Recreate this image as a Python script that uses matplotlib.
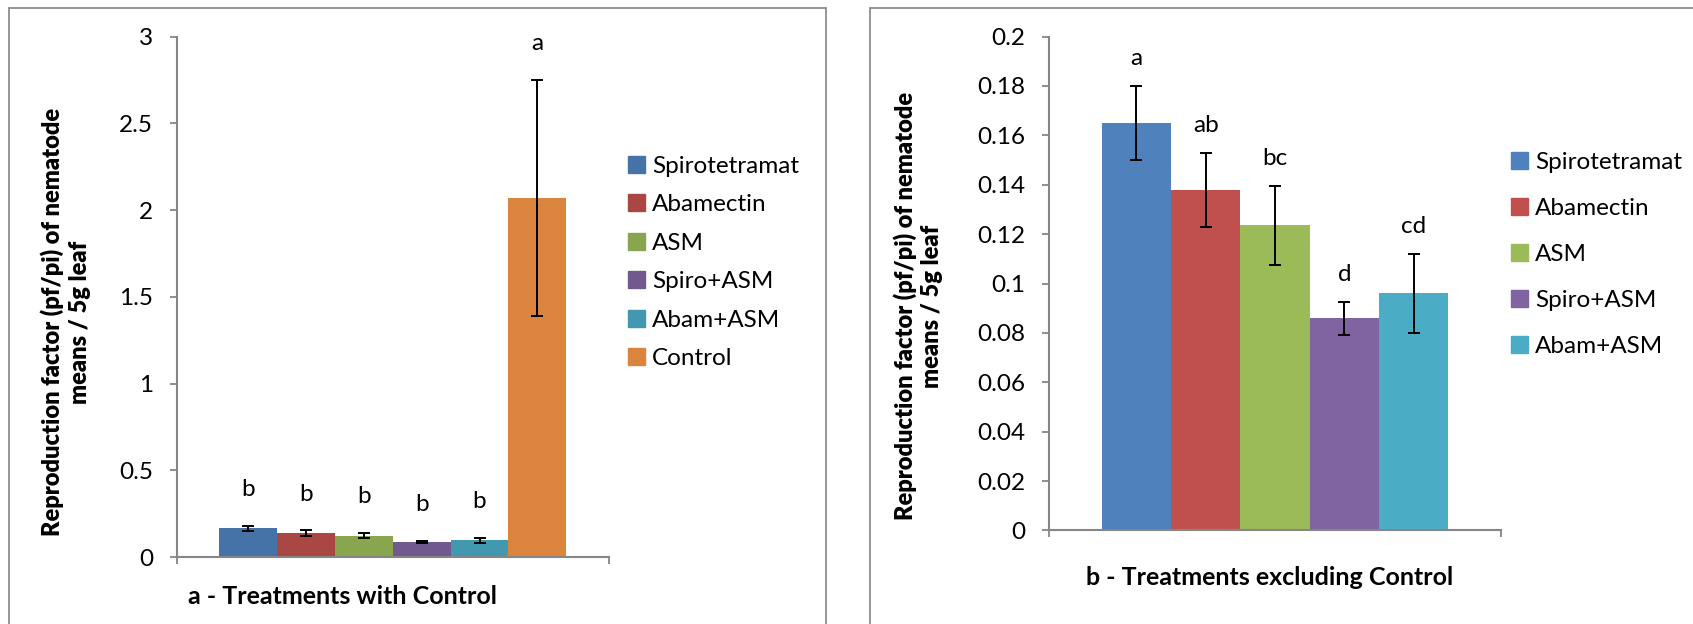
import numpy as np
import matplotlib.pyplot as plt
from matplotlib.patches import Rectangle, Patch

plt.rcParams['font.family'] = ['Lato', 'DejaVu Sans']

# data
treatments = ['Spirotetramat', 'Abamectin', 'ASM', 'Spiro+ASM', 'Abam+ASM', 'Control']
means = [0.165, 0.138, 0.1235, 0.086, 0.096, 2.07]
errs = [0.015, 0.015, 0.016, 0.0067, 0.016, 0.68]
letters_all = ['b', 'b', 'b', 'b', 'b', 'a']
letters_sub = ['a', 'ab', 'bc', 'd', 'cd']

# colours (left panel uses the older Excel palette, right the Office one)
cols_a = ['#4572A7', '#AA4643', '#89A54E', '#71588F', '#4198AF', '#DB843D']
cols_b = ['#4F81BD', '#C0504D', '#9BBB59', '#8064A2', '#4BACC6']

W, H = 1693, 624
fig = plt.figure(figsize=(W / 100, H / 100), dpi=100)

def px(x0, y0, x1, y1):
    # pixel box (top-left origin) -> figure fraction rect
    return [x0 / W, 1 - y1 / H, (x1 - x0) / W, (y1 - y0) / H]

axis_grey = '#868686'
fs = 17.5


def panel(ax, names, vals, err, lets, cols, group_w, ymax, ystep, fmt, lab_off):
    n = len(vals)
    w = group_w / n
    xs = -group_w / 2 + w / 2 + w * np.arange(n)
    ax.bar(xs, vals, width=w, color=cols, label=names, zorder=2)
    ax.errorbar(xs, vals, yerr=err, fmt='none', ecolor='black',
                elinewidth=1.4, capsize=4.5, capthick=1.4, zorder=3)
    for x, v, e, l in zip(xs, vals, err, lets):
        ax.annotate(l, (x, v + e), xytext=(0, lab_off), textcoords='offset pixels',
                    ha='center', va='center', fontsize=fs)
    ax.set_xlim(-0.5, 0.5)
    ax.set_ylim(0, ymax)
    ticks = np.arange(0, ymax + ystep / 2, ystep)
    ax.set_yticks(ticks)
    ax.set_yticklabels([fmt(t) for t in ticks], fontsize=fs)
    ax.set_xticks([-0.5, 0.5])
    ax.set_xticklabels(['', ''])
    ax.tick_params(axis='both', direction='out', length=5, width=1.3, color=axis_grey)
    ax.tick_params(axis='y', pad=12)
    for s in ['top', 'right']:
        ax.spines[s].set_visible(False)
    for s in ['left', 'bottom']:
        ax.spines[s].set_color(axis_grey)
        ax.spines[s].set_linewidth(1.5)
    ax.spines['bottom'].set_zorder(4)


def fmt_a(t):
    return '0' if t == 0 else ('%g' % t)


ax1 = fig.add_axes(px(176.6, 36.6, 609, 557))
panel(ax1, treatments, means, errs, letters_all, cols_a, 0.8026, 3, 0.5, fmt_a, 36)

ax2 = fig.add_axes(px(1048.6, 36.6, 1501.4, 530.4))
panel(ax2, treatments[:5], means[:5], errs[:5], letters_sub, cols_b, 0.766, 0.2, 0.02,
      lambda t: '0' if abs(t) < 1e-9 else ('%g' % round(t, 2)), 27)

# legends
h1 = [Patch(color=c, label=t) for c, t in zip(cols_a, treatments)]
fig.legend(handles=h1, loc='upper left', bbox_to_anchor=(618 / W, 1 - 146 / H),
           frameon=False, fontsize=fs, handlelength=0.7, handleheight=0.7,
           handletextpad=0.3, labelspacing=0.72, borderaxespad=0)
h2 = [Patch(color=c, label=t) for c, t in zip(cols_b, treatments[:5])]
fig.legend(handles=h2, loc='upper left', bbox_to_anchor=(1501 / W, 1 - 142 / H),
           frameon=False, fontsize=fs, handlelength=0.7, handleheight=0.7,
           handletextpad=0.3, labelspacing=1.03, borderaxespad=0)

# axis titles
ylab = 'Reproduction factor (pf/pi) of nematode\nmeans / 5g leaf'
fig.text(65.5 / W, 1 - 322 / H, ylab, rotation=90, ha='center', va='center',
         fontsize=17, fontweight='heavy', linespacing=1.25)
fig.text(918 / W, 1 - 306 / H, ylab, rotation=90, ha='center', va='center',
         fontsize=17, fontweight='heavy', linespacing=1.25)
fig.text(343 / W, 1 - 596 / H, 'a - Treatments with Control', ha='center', va='center',
         fontsize=18, fontweight='bold')
fig.text(1269.7 / W, 1 - 577.8 / H, 'b - Treatments excluding Control', ha='center',
         va='center', fontsize=18, fontweight='bold')

# panel frames
for x0, x1 in [(9, 826), (870, 1720)]:
    fig.add_artist(Rectangle((x0 / W, -0.1), (x1 - x0) / W, 1.1 - 7.5 / H,
                             transform=fig.transFigure, fill=False,
                             edgecolor='#8c8c8c', linewidth=1.3))

fig.savefig('out.png', dpi=100)
